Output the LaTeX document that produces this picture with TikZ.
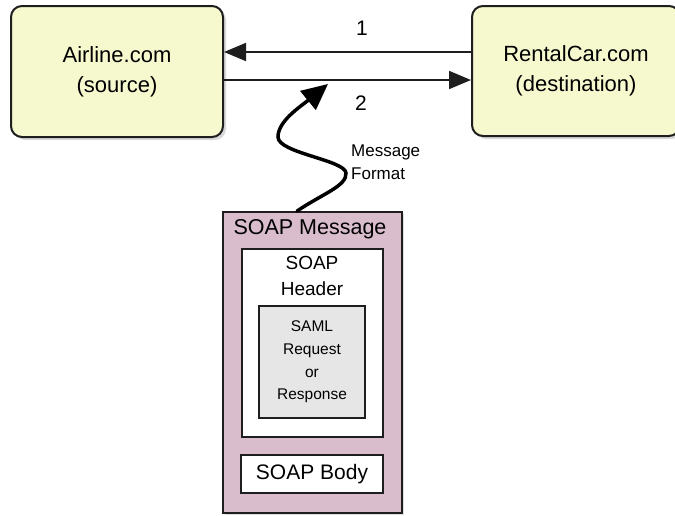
\documentclass[tikz,border=0pt]{standalone}
\usepackage{fontspec}
\setmainfont{Liberation Sans}
\usetikzlibrary{arrows.meta,shadows,calc}
\definecolor{boxyellow}{RGB}{246,248,206}
\definecolor{mauve}{RGB}{217,189,205}
\definecolor{samlgrey}{RGB}{230,230,230}
\definecolor{edge}{RGB}{30,30,30}
\tikzset{
  ybox/.style={draw=edge, line width=2pt, fill=boxyellow, rounded corners=11pt,
    drop shadow={shadow xshift=3pt, shadow yshift=-3pt, opacity=0.3},
    align=center, font=\fontsize{22}{30}\selectfont, inner sep=0pt},
  sqbox/.style={draw=edge, line width=1.8pt, inner sep=0pt},
  lbl/.style={inner sep=0pt, align=center},
  conn/.style={draw=edge, line width=1.8pt, -{Triangle[length=22pt,width=18pt]}},
  wave/.style={draw=black, line width=3.5pt, line cap=round, -{Triangle[length=26pt,width=24pt]}}
}
\begin{document}
\begin{tikzpicture}[x=1pt,y=-1pt]
\useasboundingbox (0,0) rectangle (675,515);
% top boxes
\node[ybox, minimum width=212pt, minimum height=131pt] (air) at (117,71.5) {Airline.com\\(source)};
\node[ybox, minimum width=208pt, minimum height=130pt] (rc) at (576,71) {RentalCar.com\\(destination)};
% arrows
\draw[conn] (rc.west |- 0,52) -- (air.east |- 0,52);
\draw[conn] (air.east |- 0,80) -- (rc.west |- 0,80);
\node[lbl, font=\fontsize{21}{21}\selectfont] (one) at (362,28) {1};
\node[lbl, font=\fontsize{21}{21}\selectfont] (two) at (361,103) {2};
% SOAP message
\node[sqbox, fill=mauve, minimum width=179pt, minimum height=301pt,
  drop shadow={shadow xshift=2pt, shadow yshift=-2pt, opacity=0.25}] (soap) at (312.5,362.5) {};
\node[lbl, font=\fontsize{21.5}{21.5}\selectfont] (soapt) at (310,229) {SOAP Message};
\node[sqbox, fill=white, minimum width=141pt, minimum height=188pt] (hdr) at (312.5,343) {};
\node[lbl, font=\fontsize{19}{26}\selectfont] (hdrt) at (312,276) {SOAP\\Header};
\node[sqbox, fill=samlgrey, minimum width=106pt, minimum height=112pt, font=\fontsize{15.5}{22.7}\selectfont, align=center] (saml) at (312,362) {SAML\\Request\\or\\Response};
\node[sqbox, fill=white, minimum width=142pt, minimum height=38pt, font=\fontsize{21}{21}\selectfont] (body) at (312,474) {SOAP Body};
% wavy arrow
\coordinate (tip) at (328,84);
\draw[wave] ($(soap.north)+(-15.5,0)$) .. controls (322,194) and (347,186) .. (346,173)
  .. controls (345,160) and (278,153) .. (278,137)
  .. controls (278,121) and (300,107) .. (tip);
\node[lbl, anchor=west, align=left, font=\fontsize{17}{23}\selectfont] (fmt) at (351,162) {Message\\Format};
\end{tikzpicture}
\end{document}
